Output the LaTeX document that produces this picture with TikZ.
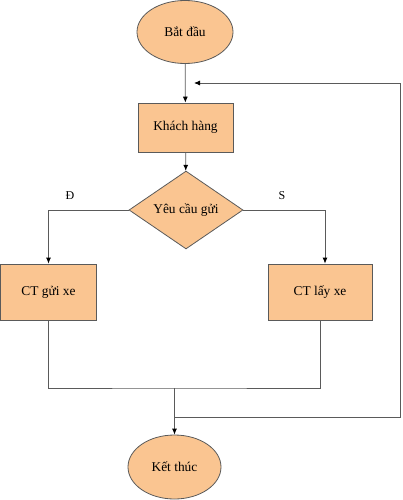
\documentclass[tikz,border=0pt]{standalone}
\usepackage{fontspec}
\setmainfont{Liberation Serif}
\usetikzlibrary{shapes.geometric,arrows.meta}
\definecolor{peach}{HTML}{FAC591}
\definecolor{edgegray}{HTML}{5A5A5A}
\begin{document}
\begin{tikzpicture}[x=1pt,y=-1pt,
 base/.style={draw=edgegray,fill=peach,line width=0.8pt,font=\fontsize{13.4}{15}\selectfont,inner sep=0pt},
 term/.style={base,ellipse,minimum width=96pt,minimum height=63pt},
 box/.style={base,rectangle,minimum width=95pt,minimum height=49pt},
 dec/.style={base,diamond,minimum width=114pt,minimum height=75pt},
 conn/.style={draw=edgegray,line width=0.8pt},
 arr/.style={conn,-{Latex[length=6pt,width=5pt,color=black]}},
 lbl/.style={font=\fontsize{12}{14}\selectfont,inner sep=0pt}]
\useasboundingbox (0,0) rectangle (402,500);
\node[term] (start) at (185,32) {Bắt đầu};
\node[box] (kh) at (185.5,127.5) {Khách hàng};
\node[dec] (yc) at (186,210) {Yêu cầu gửi};
\node[box,minimum width=96pt,minimum height=56pt] (gui) at (48.5,292) {CT gửi xe};
\node[box,minimum width=104pt,minimum height=56pt] (lay) at (320,292) {CT lấy xe};
\node[term,minimum width=93pt,minimum height=64pt] (end) at (174.5,467) {Kết thúc};
\node[lbl] (ld) at (70,196) {Đ};
\node[lbl] (ls) at (282,196) {S};
\coordinate (mj) at (end.north |- 0,388);
\coordinate (lj) at (end.north |- 0,417);
\coordinate (lc) at (400,417);
\coordinate (la) at (194,83);
\draw[arr] (start) -- (kh);
\draw[arr] (kh) -- (yc);
\draw[arr] (yc.west) -| (gui.north);
\draw[arr] (yc.east) -| ([xshift=5pt]lay.north);
\draw[conn] (gui.south) |- (mj) -| (lay.south);
\draw[arr] (mj) -- (end);
\draw[arr] (lj) -- (lc) |- (la);
\end{tikzpicture}
\end{document}
